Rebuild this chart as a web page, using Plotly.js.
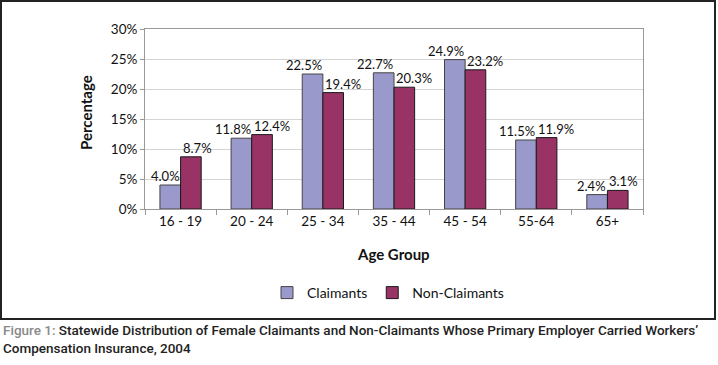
<!DOCTYPE html>
<html><head><meta charset="utf-8">
<script src="https://cdn.plot.ly/plotly-3.0.1.min.js"></script>
<style>body{margin:0;background:#fff}#c{width:718px;height:365px}</style>
</head><body><div id="c"></div>
<script>
const categories = ['16 - 19','20 - 24','25 - 34','35 - 44','45 - 54','55-64','65+'];
const claimants = [4.0, 11.8, 22.5, 22.7, 24.9, 11.5, 2.4];
const nonClaimants = [8.7, 12.4, 19.4, 20.3, 23.2, 11.9, 3.1];
const yTicks = [0,5,10,15,20,25,30];

const F = 'Lato, "Open Sans", sans-serif';
const L=145, R=643, T=29, B=209;
const px = x => (x-L)/(R-L);
const py = y => (B-y)/(B-T);

const mk = (name, vals, color, lc) => ({
  type:'bar', name:name, x:categories, y:vals,
  marker:{color:color, line:{color:lc, width:1}},
  hoverinfo:'none'
});

const data = [mk('Claimants', claimants, '#9999cc', '#444'), mk('Non-Claimants', nonClaimants, '#993366', '#1a1a1a')];

const labelAnn = [];
categories.forEach((c,i)=>{
  labelAnn.push({x:c, y:claimants[i], xref:'x', yref:'y', text:claimants[i].toFixed(1)+'%',
    xanchor:'right', yanchor:'bottom', xshift:0, yshift:0, showarrow:false, borderpad:0,
    font:{family:F, size:13, color:'#111'}});
  labelAnn.push({x:c, y:nonClaimants[i], xref:'x', yref:'y', text:nonClaimants[i].toFixed(1)+'%',
    xanchor:'left', yanchor:'bottom', xshift:1, yshift:0, showarrow:false, borderpad:0,
    font:{family:F, size:13, color:'#111'}});
});

const layout = {
  width:718, height:365,
  margin:{l:L, r:718-R, t:T, b:365-B, pad:0},
  paper_bgcolor:'#fff', plot_bgcolor:'#fff',
  barmode:'group', bargap:0.42, bargroupgap:0,
  showlegend:true,
  legend:{orientation:'h', x:px(388), xanchor:'center', y:py(293), yanchor:'middle',
    font:{family:F, size:14, color:'#111'}, itemwidth:30, traceorder:'normal'},
  xaxis:{type:'category', tickson:'boundaries', ticks:'outside', ticklen:5, tickcolor:'#999',
    showline:true, linecolor:'#999', mirror:true, showgrid:false,
    tickfont:{family:F, size:13.5, color:'#111'}},
  yaxis:{range:[0,30], tickvals:yTicks, ticktext:yTicks.map(v=>v+'%'), ticks:'outside', ticklen:4,
    tickcolor:'#999', showline:true, linecolor:'#999', mirror:true, gridcolor:'#d4d4d4',
    tickfont:{family:F, size:13.5, color:'#111'}, zeroline:false},
  annotations:labelAnn.concat([
    {text:'<b>Percentage</b>', xref:'paper', yref:'paper', x:px(86), y:py(113), xanchor:'center', yanchor:'middle', textangle:-90,
      showarrow:false, font:{family:F, size:15, color:'#111'}},
    {text:'<b>Age Group</b>', xref:'paper', yref:'paper', x:px(393), y:py(254), xanchor:'center', yanchor:'middle',
      showarrow:false, font:{family:F, size:15, color:'#111'}},
    {text:'<span style="color:#8a8a8a">Figure 1:</span> Statewide Distribution of Female Claimants and Non-Claimants Whose Primary Employer Carried Workers’<br>Compensation Insurance, 2004',
      xref:'paper', yref:'paper', x:px(1), y:py(339), xanchor:'left', yanchor:'middle', align:'left',
      showarrow:false, font:{family:'Roboto, sans-serif', size:13.5, color:'#222', weight:500}}
  ]),
  shapes:[
    {type:'rect', xref:'paper', yref:'paper', x0:px(1), x1:px(715), y0:py(319), y1:py(1),
      line:{color:'#222', width:2}}
  ]
};
Plotly.newPlot('c', data, layout, {staticPlot:true});
</script></body></html>
